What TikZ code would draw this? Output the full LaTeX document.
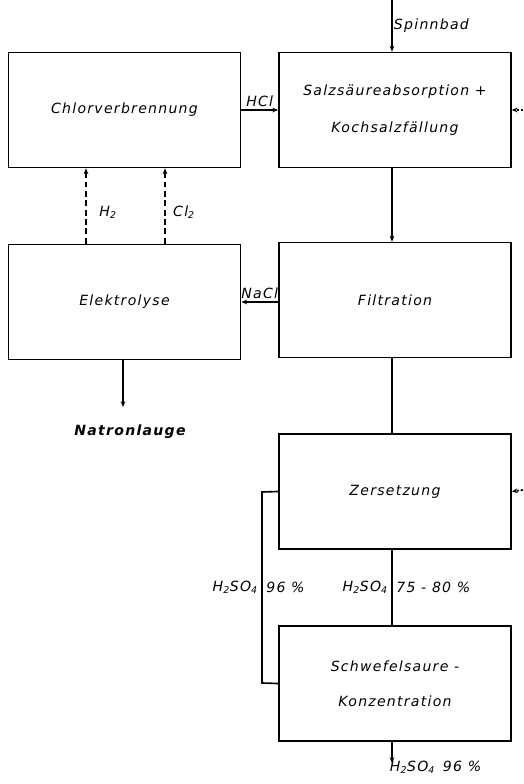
\documentclass[tikz,border=0pt]{standalone}
\usepackage{fontspec}
\setmainfont[LetterSpace=9]{DejaVu Sans}
\usetikzlibrary{arrows.meta}

\begin{document}
\begin{tikzpicture}[>={Stealth[length=5pt,width=4pt]},x=0.03cm,y=-0.03cm,
  font=\itshape\fontsize{12}{14}\selectfont, line width=1.4pt,
  box/.style={draw,minimum width=6.96cm,minimum height=3.45cm,align=center},
  lab/.style={font=\itshape\fontsize{12}{14}\selectfont,inner sep=1pt},
  gas/.style={->,dash pattern=on 5pt off 3pt},
  stub/.style={->,dash pattern=on 2pt off 1.5pt}]
  \useasboundingbox (0,0) rectangle (523,784);

  \node[box] (C) at (124.5,110) {Chlorverbrennung};
  \node[box] (S) at (395,110) {Salzsäureabsorption +\\[0.62cm] Kochsalzfällung};
  \node[box] (E) at (124.5,302) {Elektrolyse};
  \node[box] (F) at (395,300) {Filtration};
  \node[box] (Z) at (395,491.5) {Zersetzung};
  \node[box] (K) at (395,683.5) {Schwefelsaure -\\[0.55cm] Konzentration};

  \coordinate (in) at (392,0);
  \coordinate (sr) at (523,110);
  \coordinate (zr) at (523,490);
  \coordinate (nl) at (123,407);
  \coordinate (out) at (392,763);
  \coordinate (lt) at (262,492);
  \coordinate (lb) at (262,683);

  \draw[->] (in) -- node[right,lab] {Spinnbad} (in |- S.north);
  \draw[->] (C.east) -- node[above=1pt,lab] {HCl} (S.west);
  \draw[stub] (sr) -- (S.east);
  \draw[->] (S.south -| in) -- (F.north -| in);
  \draw[gas] (86,0 |- E.north) -- (86,0 |- C.south);
  \draw[gas] (165,0 |- E.north) -- (165,0 |- C.south);
  \node[lab] (h2) at (108,212) {H\textsubscript{2}};
  \node[lab] (cl2) at (184,212) {Cl\textsubscript{2}};
  \draw[->] (E.east -| F.west) -- node[above=1pt,lab] {NaCl} (E.east);
  \draw[->] (nl |- E.south) -- (nl);
  \node[lab,font=\bfseries\itshape\fontsize{12}{14}\selectfont] (nlab) at (130,432) {Natronlauge};
  \draw (F.south -| in) -- (Z.north -| in);
  \draw[stub] (zr) -- (Z.east);
  \draw (Z.south -| in) -- node[left=2pt,lab] {H\textsubscript{2}SO\textsubscript{4}}
    node[right=2pt,lab] {75 - 80 \%} (K.north -| in);
  \draw (K.west) -- (lb) -- node[left=2pt,lab] {H\textsubscript{2}SO\textsubscript{4}}
    node[right=2pt,lab] {96 \%} (lt) -- (Z.west);
  \draw[->] (K.south -| in) -- (out) node[below right=-0.12cm,lab] {H\textsubscript{2}SO\textsubscript{4}\, 96 \%};
\end{tikzpicture}
\end{document}
